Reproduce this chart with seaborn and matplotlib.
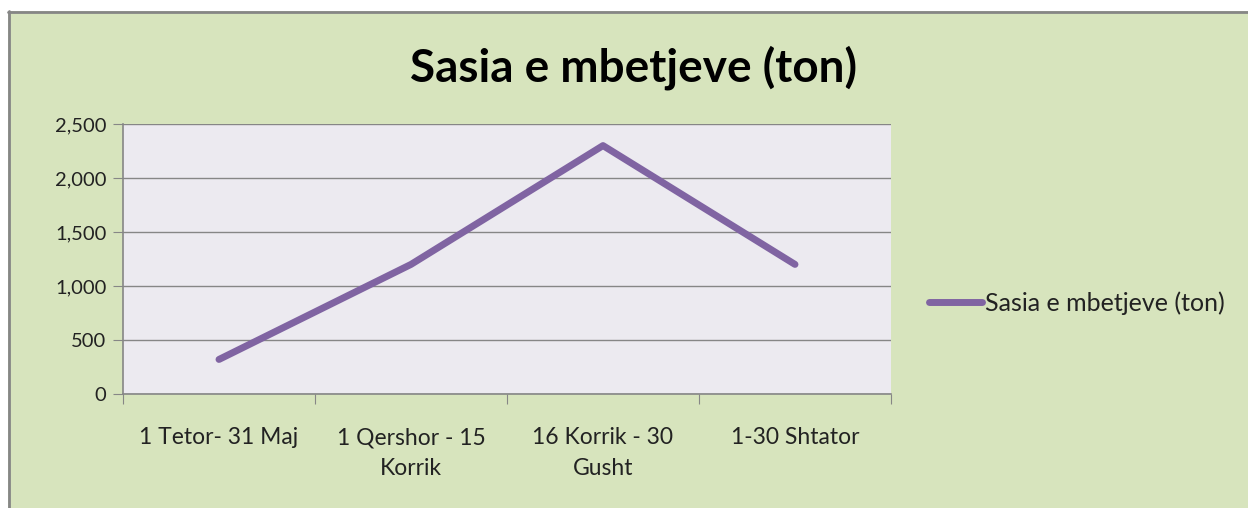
import matplotlib
matplotlib.use('Agg')
import matplotlib.pyplot as plt
import pandas as pd
import seaborn as sns
from matplotlib.patches import Rectangle
from matplotlib.lines import Line2D
from matplotlib.ticker import FuncFormatter

periudhat = ["1 Tetor- 31 Maj", "1 Qershor - 15\nKorrik", "16 Korrik - 30\nGusht", "1-30 Shtator"]
sasia = [320, 1200, 2300, 1200]
seria = "Sasia e mbetjeve (ton)"

df = pd.DataFrame({"periudha": periudhat, "sasia": sasia})

sns.set_style("white")
plt.rcParams['font.family'] = ['Lato', 'DejaVu Sans']

fig = plt.figure(figsize=(12.48, 5.08), dpi=100)
fig.patch.set_facecolor("white")

# green chart area with grey border on top/left
W, H = 1248, 508
fig.patches.append(Rectangle((8 / W, 0), 1, (H - 11) / H, transform=fig.transFigure,
                             facecolor="#D7E4BD", edgecolor="none", zorder=-2))
fig.lines.append(Line2D([8 / W, 1], [(H - 12) / H] * 2, transform=fig.transFigure,
                        color="#868686", lw=2, zorder=-1))
fig.lines.append(Line2D([9 / W] * 2, [0, (H - 11) / H], transform=fig.transFigure,
                        color="#868686", lw=2, zorder=-1))

ax = fig.add_axes([123 / W, (H - 394) / H, (891 - 123) / W, (394 - 124) / H])
ax.set_facecolor("#ECEAF0")

sns.lineplot(data=df, x="periudha", y="sasia", ax=ax, color="#8064A2", lw=5,
             label=seria, sort=False)
for ln in ax.lines:
    ln.set_solid_capstyle("round")

ax.set_ylim(0, 2500)
ax.set_yticks([0, 500, 1000, 1500, 2000, 2500])
ax.yaxis.set_major_formatter(FuncFormatter(lambda v, p: f"{int(v):,}"))
ax.grid(axis="y", color="#868686", lw=1)
ax.set_axisbelow(True)

ax.set_xlim(-0.5, 3.5)
ax.set_xticks([-0.5, 0.5, 1.5, 2.5, 3.5])
ax.set_xticklabels([])
ax.set_xticks([0, 1, 2, 3], minor=True)
ax.set_xticklabels(periudhat, minor=True, fontsize=16.5, color="#222222")
ax.tick_params(axis="x", which="minor", length=0, pad=24)
ax.tick_params(axis="x", which="major", length=7, color="#868686", direction="out", bottom=True)
ax.tick_params(axis="y", length=7, color="#868686", direction="out", left=True,
               labelsize=14.5, labelcolor="#222222", pad=5)
for lbl in ax.get_xticklabels(minor=True):
    lbl.set_linespacing(1.55)

for s in ["top", "right"]:
    ax.spines[s].set_visible(False)
for s in ["left", "bottom"]:
    ax.spines[s].set_color("#868686")
    ax.spines[s].set_linewidth(1.2)

ax.set_xlabel("")
ax.set_ylabel("")

leg = ax.legend(loc="center left", bbox_to_anchor=(929 / W, (H - 303) / H),
                bbox_transform=fig.transFigure, frameon=False, fontsize=18,
                handlelength=2.1, handletextpad=0.15, borderaxespad=0, borderpad=0)
for t in leg.get_texts():
    t.set_color("#222222")
for h in leg.get_lines():
    h.set_solid_capstyle("round")

fig.text(634 / W, (H - 68) / H, seria, ha="center", va="center",
         fontsize=33, fontweight="bold", color="black")

fig.savefig("out.png", dpi=100)
